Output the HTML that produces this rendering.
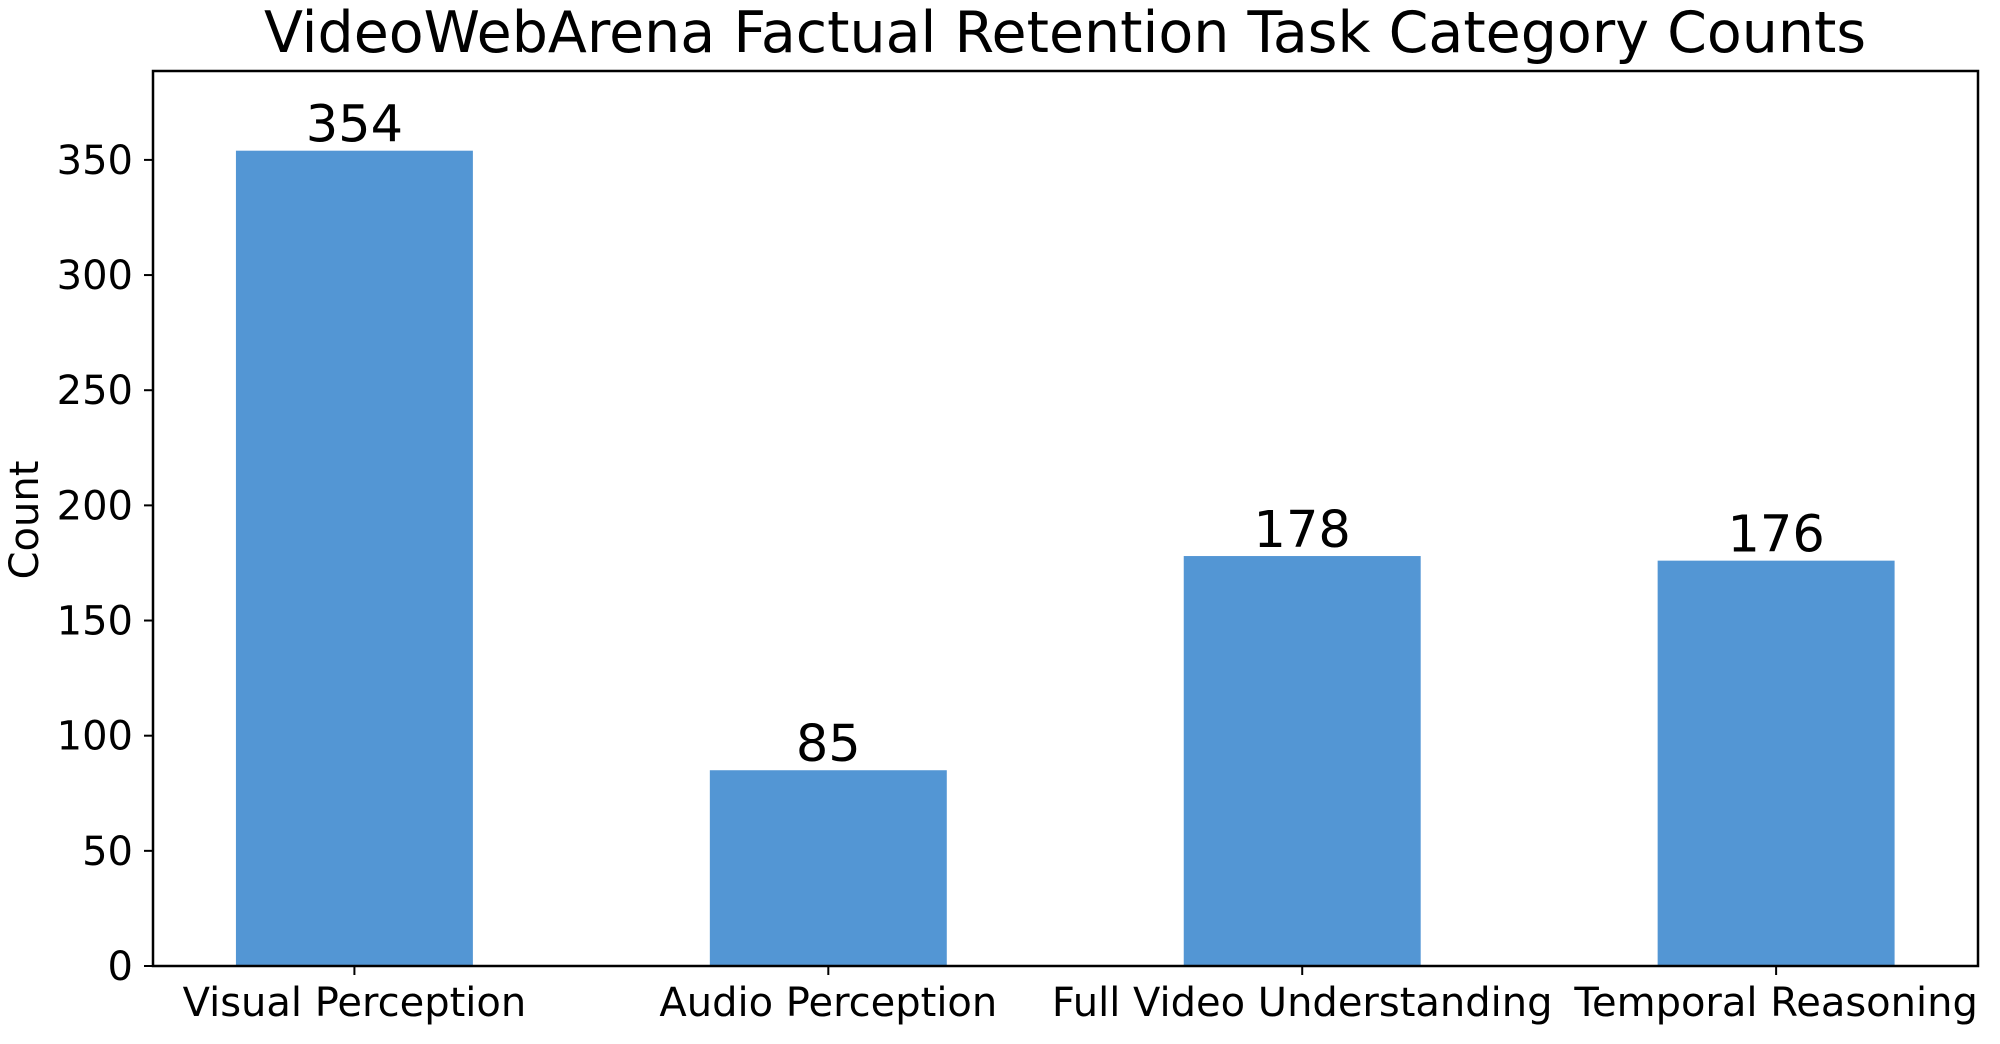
<!DOCTYPE html>
<html><head><meta charset="utf-8"><style>
html,body{margin:0;padding:0;background:#fff;}
svg{display:block;font-family:"DejaVu Sans","Liberation Sans",sans-serif;}
</style></head><body>
<svg id="chart" width="2000" height="1044" viewBox="0 0 2000 1044" xmlns="http://www.w3.org/2000/svg">
<text x="1065" y="52" font-size="57" text-anchor="middle">VideoWebArena Factual Retention Task Category Counts</text>
<text transform="translate(38,520) rotate(-90)" font-size="40" text-anchor="middle">Count</text>
<g id="bars"></g>
<g id="yticks"></g>
<g id="xticks"></g>
<rect x="153" y="71" width="1825" height="895" fill="none" stroke="#000" stroke-width="2.5"/>
</svg>
<script>
const categories = ["Visual Perception","Audio Perception","Full Video Understanding","Temporal Reasoning"];
const counts = [354, 85, 178, 176];
const yTickValues = [0,50,100,150,200,250,300,350];

const NS="http://www.w3.org/2000/svg";
const L=153,R=1978,T=71,B=966;
const xMin=-0.425,xMax=3.426,yMax=388.6;
function xs(v){return L+(v-xMin)/(xMax-xMin)*(R-L);}
function ys(v){return B-v/yMax*(B-T);}
function mk(tag,attrs,parent){const e=document.createElementNS(NS,tag);for(const k in attrs)e.setAttribute(k,attrs[k]);parent.appendChild(e);return e;}
const gb=document.getElementById('bars'),gy=document.getElementById('yticks'),gx=document.getElementById('xticks');
categories.forEach((c,i)=>{
  const x0=xs(i-0.25),x1=xs(i+0.25);
  const r=mk('rect',{x:x0,y:ys(counts[i]),width:x1-x0,height:B-ys(counts[i]),fill:'#5396d4'},gb);
  
  
  const t=mk('text',{x:xs(i),y:ys(counts[i])-9,'font-size':51,'text-anchor':'middle'},gb);
  t.textContent=counts[i];
  
  
  const tk=mk('line',{x1:xs(i),x2:xs(i),y1:B,y2:B+9,stroke:'#000','stroke-width':2},gx);
  
  
  const lb=mk('text',{x:xs(i),y:1016,'font-size':40,'text-anchor':'middle'},gx);
  lb.textContent=c;
  
  
});
yTickValues.forEach(v=>{
  const tk=mk('line',{x1:L-9,x2:L,y1:ys(v),y2:ys(v),stroke:'#000','stroke-width':2},gy);
  
  
  const lb=mk('text',{x:L-20,y:ys(v)+14,'font-size':40,'text-anchor':'end'},gy);
  lb.textContent=v;
  
  
});
</script>
</body></html>
